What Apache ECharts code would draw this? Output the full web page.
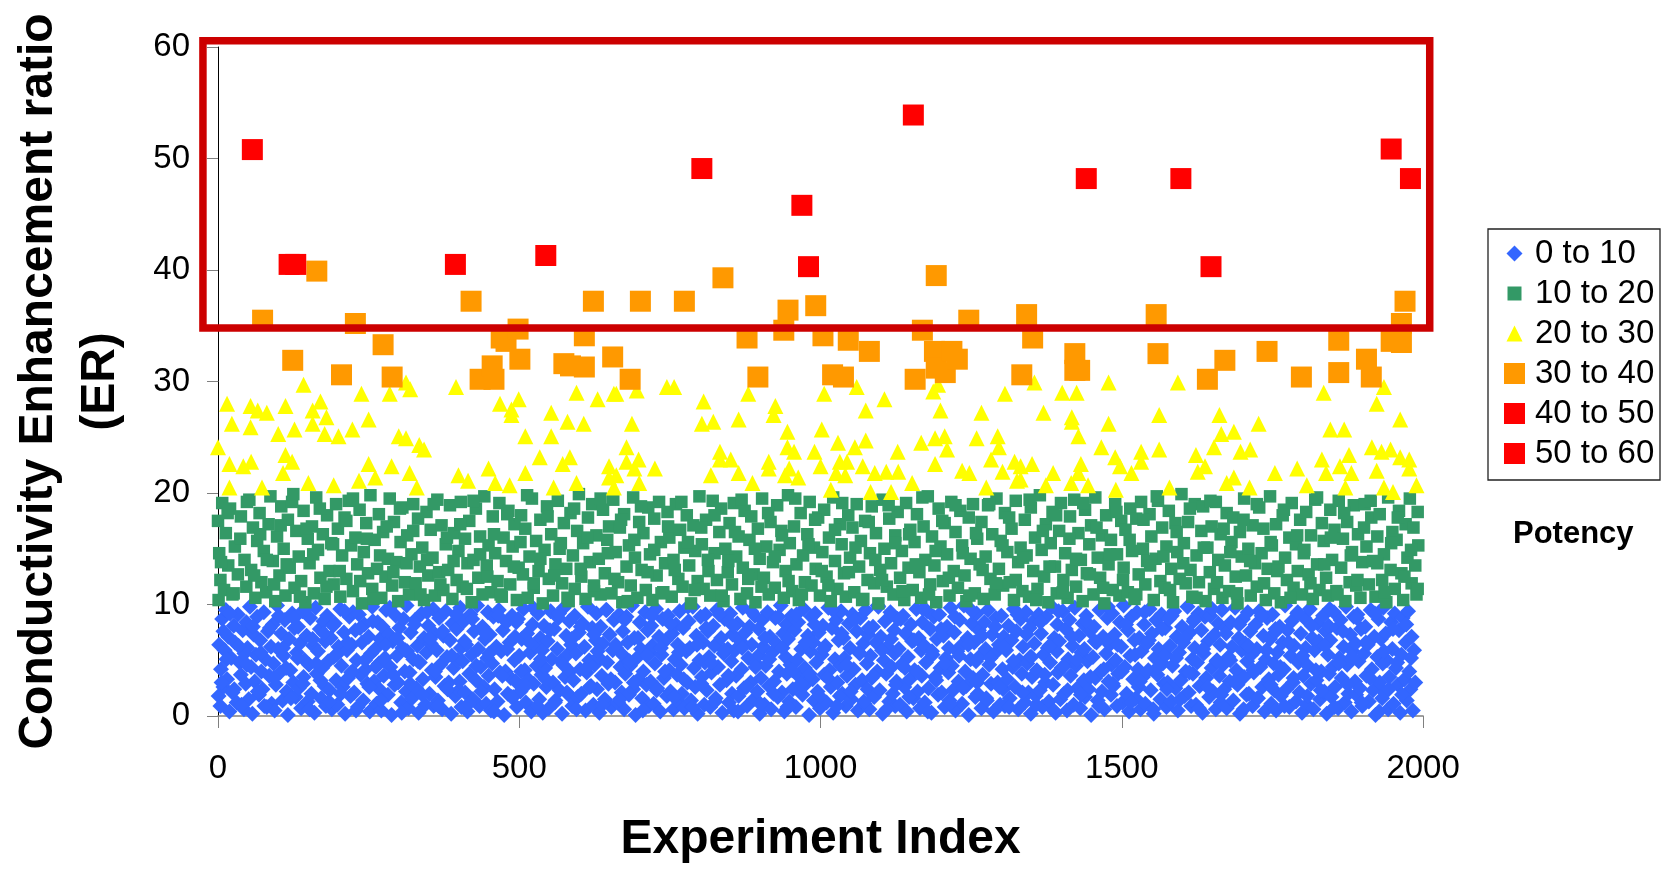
<!DOCTYPE html>
<html>
<head>
<meta charset="utf-8">
<script src="https://cdn.jsdelivr.net/npm/echarts@6/dist/echarts.min.js"></script>
<style>
html,body{margin:0;padding:0;background:#fff;}
#chart{width:1670px;height:869px;}
</style>
</head>
<body>
<div id="chart"></div>
<script>
// ---------- data (Experiment Index, Conductivity Enhancement ratio) ----------
const seriesNames = ['0 to 10', '10 to 20', '20 to 30', '30 to 40', '40 to 50', '50 to 60'];
const xTicks = [0, 500, 1000, 1500, 2000];
const yTicks = [0, 10, 20, 30, 40, 50, 60];

const red50to60 = [[57,50.8],[1154,53.9],[1947,50.85]];

const red40to50 = [[118,40.5],[129,40.5],[394,40.5],[544,41.3],[803,49.1],[969,45.8],[980,40.3],
  [1441,48.2],[1598,48.2],[1648,40.3],[1979,48.2]];

const orange30to40 = [[74,35.5],[124,31.9],[164,39.9],[205,30.6],[228,35.2],[274,33.3],[289,30.4],
  [420,37.2],[435,30.2],[455,31.4],[458,30.2],[470,33.9],[478,33.6],[498,34.7],[501,32.0],[574,31.6],
  [585,31.4],[608,34.1],[608,31.3],[623,37.2],[655,32.2],
  [684,30.2],[701,37.2],[774,37.2],[838,39.3],[878,33.9],[896,30.4],[939,34.6],[946,36.4],[992,36.8],
  [1004,34.1],[1020,30.6],[1038,30.4],[1046,33.7],[1081,32.7],[1157,30.2],[1169,34.6],[1189,32.7],
  [1192,39.5],[1192,31.2],[1207,30.8],[1218,32.7],[1227,32.0],[1246,35.5],
  [1334,30.6],[1342,36.0],[1352,33.9],[1422,32.5],[1422,31.0],[1430,31.0],[1557,36.0],[1560,32.5],
  [1642,30.2],[1671,31.9],[1741,32.7],[1798,30.4],[1860,33.7],[1860,30.8],[1906,32.0],[1914,30.4],
  [1947,33.6],[1964,35.2],[1964,33.5],[1970,37.2]];

const yellow20to30 = [[0,24.1],[15,28.0],[19,22.6],[19,20.5],[23,26.2],[42,22.4],[54,27.8],[54,25.9],
  [55,22.8],[66,27.4],[73,20.5],[81,27.2],[100,25.3],[108,21.8],[112,27.8],[112,23.4],[123,22.8],
  [127,25.7],[142,29.7],[150,20.9],[157,27.4],[157,26.2],[170,28.2],[177,25.3],[180,26.8],[192,20.7],
  [200,25.1],[223,25.7],[234,21.1],[238,28.9],[250,26.6],[250,22.6],[261,21.4],[285,28.9],[288,22.4],
  [300,25.1],[312,29.9],[312,24.9],[318,21.8],[319,29.3],[330,20.5],[334,24.3],[342,23.9],[395,29.5],
  [399,21.6],[415,21.1],[449,22.2],[460,20.9],[468,28.0],[484,20.7],[487,27.5],[487,27.0],[499,28.4],
  [510,25.1],[510,21.8],[534,23.2],[553,27.2],[553,25.1],[557,20.5],[572,22.6],[580,26.4],[584,23.2],
  [595,29.0],[595,20.9],[607,26.2],[630,28.4],[649,22.4],[649,21.4],[657,28.9],[657,20.5],
  [661,28.9],[661,21.6],[678,24.1],[678,22.8],[687,26.2],[691,22.2],[695,29.2],[698,23.0],[699,20.9],
  [725,22.2],[745,29.5],[757,29.5],[803,26.2],[806,28.2],[818,21.6],[822,26.4],[833,23.7],[833,23.0],
  [851,23.0],[864,26.6],[864,21.8],[880,28.9],[887,20.9],[914,22.8],[914,22.2],[922,27.0],[925,27.8],
  [941,21.6],[945,25.5],[945,24.1],[948,22.2],[956,23.7],[963,21.4],[990,23.7],[1000,22.4],[1002,25.7],
  [1006,28.9],[1017,20.3],[1026,21.8],[1029,24.5],[1032,22.8],[1041,21.6],[1044,22.8],[1057,24.1],
  [1060,29.5],[1070,22.4],[1075,24.7],[1075,27.4],[1083,20.1],[1090,21.8],[1106,28.4],[1109,21.9],
  [1117,20.1],[1128,23.7],[1129,21.9],[1152,20.9],[1167,24.5],[1187,29.1],[1190,24.9],[1190,22.6],
  [1195,29.7],[1199,27.4],[1206,25.1],[1210,23.9],[1235,22.0],[1247,21.8],[1259,24.9],[1267,27.2],
  [1275,20.5],[1283,23.0],[1294,25.1],[1296,24.1],[1302,21.9],[1306,28.9],[1322,22.8],[1326,21.1],
  [1332,22.4],[1332,21.2],[1351,22.6],[1355,29.9],[1370,27.2],[1374,20.7],[1386,21.8],[1401,29.0],
  [1416,20.9],[1417,26.8],[1417,26.4],[1425,29.0],[1428,25.1],[1428,21.8],[1432,22.6],[1444,20.7],
  [1466,24.1],[1478,29.9],[1478,26.2],[1489,23.2],[1490,20.3],[1497,22.4],[1516,21.8],[1532,23.7],
  [1532,22.8],[1562,27.0],[1562,23.9],[1579,20.5],[1593,29.9],[1623,23.4],[1626,21.9],[1638,22.4],
  [1653,24.1],[1662,27.0],[1665,25.3],[1674,20.9],[1686,25.5],[1686,21.4],[1697,23.7],[1712,20.5],
  [1713,23.9],[1727,26.2],[1754,21.8],[1791,22.2],[1807,20.7],[1832,23.0],[1835,29.0],[1839,21.8],
  [1846,25.7],[1862,22.4],[1869,25.7],[1871,20.5],[1877,23.4],[1881,21.8],[1915,24.1],[1923,28.0],
  [1923,22.0],[1931,23.7],[1935,29.5],[1935,20.5],[1946,23.9],[1950,20.1],[1962,26.6],[1962,23.2],
  [1977,23.0],[1977,22.2],[1989,20.7]];

const green10to20 = [
  [0,17.5],[1,10.4],[2,14.6],[4,12.2],[7,19.1],[10,11.3],[13,16.4],[17,13.5],[20,18.6],[24,10.9],[28,15.2],[33,12.7],[38,17.9],[44,14.0],[47,11.6],
  [52,19.4],[55,13.1],[58,16.9],[62,10.6],[65,15.7],[69,18.2],[72,12.0],[76,14.8],[80,11.1],[84,17.2],[87,19.7],[91,13.9],[95,10.3],[98,16.1],
  [102,12.6],[105,18.8],[109,15.0],[112,10.8],[116,17.6],[119,13.3],[123,19.2],[127,11.5],[130,16.6],[134,14.3],[138,12.1],[142,18.4],[145,10.2],[149,15.9],
  [152,13.7],[156,17.0],[159,11.0],[163,19.6],[166,14.9],[170,12.4],[174,16.3],[177,10.5],[181,18.0],[185,13.0],[188,15.5],[192,11.8],[196,19.0],[199,16.8],
  [203,10.7],[206,14.4],[210,17.8],[213,12.3],[217,19.3],[221,15.3],[224,11.2],[228,16.0],[231,13.6],[235,18.5],[239,10.1],[242,14.7],[246,17.3],[249,12.8],
  [253,19.8],[256,11.4],[260,15.8],[264,13.2],[267,18.1],[271,10.6],[274,16.5],[278,12.5],[282,14.1],[285,19.5],[289,11.7],[292,17.4],[296,13.8],[299,10.3],
  [303,15.6],[306,18.7],[310,12.0],[314,16.2],[317,10.9],[321,14.5],[324,19.0],[328,11.9],[332,17.7],[335,13.4],[339,15.1],[342,10.4],[346,18.3],[349,12.6],
  [353,16.7],[356,14.2],[360,10.8],[364,19.4],[367,12.9],[371,17.1],[374,11.3],[378,15.4],[382,13.1],[385,18.9],[389,10.5],[392,16.4],[396,12.2],[399,14.8],
  [403,19.2],[406,11.6],[410,15.9],[414,13.7],[417,17.5],[421,10.2],[424,14.0],[428,18.6],[432,12.4],[435,16.1],[439,10.9],[442,19.7],[446,13.5],[449,15.3],
  [453,11.1],[456,17.9],[460,14.6],[464,12.1],[467,19.1],[471,10.7],[474,16.0],[478,13.9],[482,18.4],[485,11.8],[489,15.2],[492,17.2],[496,10.4],[499,13.3],
  [503,18.0],[506,12.7],[510,16.8],[514,10.6],[517,14.3],[521,19.5],[524,11.5],[528,15.7],[532,13.0],[535,17.6],[539,10.1],[542,14.9],[546,18.8],[549,12.3],
  [553,16.3],[556,10.8],[560,13.6],[564,19.3],[567,15.0],[571,11.9],[574,17.3],[578,13.2],[582,10.3],[585,18.2],[589,14.4],[592,11.4],[596,16.6],[599,19.9],
  [603,12.5],[606,15.5],[610,10.5],[614,17.8],[617,13.8],[621,19.0],[624,11.2],[628,16.2],[632,14.1],[635,10.9],[639,18.5],[642,12.8],[646,15.8],[649,17.0],
  [653,11.0],[656,19.4],[660,14.7],[664,12.0],[667,16.9],[671,10.2],[674,18.1],[678,13.4],[682,15.3],[685,11.7],[689,19.6],[692,14.2],[696,10.6],[699,17.4],
  [703,13.1],[706,16.4],[710,11.3],[714,18.7],[717,14.5],[721,10.4],[724,17.7],[728,12.6],[732,19.2],[735,15.6],[739,11.1],[742,13.7],[746,18.3],[749,16.0],
  [753,10.7],[756,14.0],[760,19.0],[764,12.3],[767,16.7],[771,11.6],[774,15.1],[778,18.0],[782,13.5],[785,10.1],[789,17.1],[792,14.8],[796,12.1],[799,19.7],
  [803,15.4],[806,11.4],[810,17.6],[814,13.0],[817,10.8],[821,19.3],[824,14.6],[828,12.2],[832,16.5],[835,18.6],[839,10.3],[842,15.0],[846,12.9],[849,17.3],
  [853,11.8],[856,19.1],[860,14.3],[864,16.1],[867,10.5],[871,13.3],[874,18.4],[878,11.0],[882,15.8],[885,17.9],[889,12.7],[892,10.2],[896,16.8],[899,14.1],
  [903,19.5],[906,12.4],[910,15.2],[914,10.9],[917,17.4],[921,13.8],[924,11.5],[928,18.9],[932,14.9],[935,16.6],[939,10.6],[942,13.0],[946,19.8],[949,15.5],
  [953,11.2],[956,17.0],[960,13.6],[964,10.4],[967,18.2],[971,14.4],[974,12.0],[978,16.3],[982,19.2],[985,11.7],[989,15.1],[992,13.2],[996,17.8],[999,10.8],
  [1003,14.7],[1006,18.5],[1010,12.5],[1014,16.0],[1017,10.3],[1021,19.6],[1024,13.9],[1028,11.4],[1032,17.2],[1035,15.4],[1039,12.8],[1042,10.7],[1046,18.0],[1049,14.2],
  [1053,16.9],[1056,11.1],[1060,19.0],[1064,13.4],[1067,15.7],[1071,10.5],[1074,17.5],[1078,12.2],[1082,14.6],[1085,18.8],[1089,11.9],[1092,16.4],[1096,10.1],[1099,13.1],
  [1103,19.4],[1106,15.0],[1110,11.6],[1114,17.7],[1117,13.7],[1121,10.9],[1124,16.2],[1128,18.3],[1132,12.4],[1135,14.8],[1139,10.4],[1142,19.1],[1146,13.3],[1149,16.7],
  [1153,11.3],[1156,15.6],[1160,18.1],[1164,12.9],[1167,10.6],[1171,17.0],[1174,14.0],[1178,19.7],[1182,11.8],[1185,16.1],[1189,13.5],[1192,10.2],[1196,18.6],[1199,15.2],
  [1203,12.1],[1206,17.3],[1210,14.5],[1214,10.8],[1217,19.2],[1221,13.0],[1224,16.5],[1228,11.5],[1232,18.4],[1235,15.3],[1239,12.6],[1242,10.3],[1246,17.8],[1249,14.1],
  [1253,19.0],[1256,11.0],[1260,15.9],[1264,13.6],[1267,17.4],[1271,10.5],[1274,14.3],[1278,18.9],[1282,12.3],[1285,16.3],[1289,10.9],[1292,19.5],[1296,13.2],[1299,15.7],
  [1303,11.7],[1306,18.2],[1310,14.7],[1314,12.0],[1317,16.8],[1321,10.4],[1324,19.3],[1328,13.8],[1332,15.1],[1335,11.2],[1339,17.6],[1342,14.4],[1346,10.7],[1349,18.7],
  [1353,13.0],[1356,16.0],[1360,11.4],[1364,19.8],[1367,14.9],[1371,12.5],[1374,17.2],[1378,10.2],[1382,15.5],[1385,18.3],[1389,13.4],[1392,11.0],[1396,16.6],[1399,19.1],
  [1403,12.2],[1406,14.6],[1410,10.6],[1414,17.9],[1417,13.1],[1421,19.4],[1424,11.6],[1428,16.4],[1432,14.0],[1435,10.3],[1439,18.5],[1442,12.8],[1446,15.4],[1449,17.1],
  [1453,10.9],[1456,19.6],[1460,14.2],[1464,12.4],[1467,16.2],[1471,10.1],[1474,18.0],[1478,13.6],[1482,15.8],[1485,11.3],[1489,19.0],[1492,14.5],[1496,10.8],[1499,17.5],
  [1503,13.3],[1506,16.7],[1510,11.1],[1514,18.6],[1517,14.8],[1521,10.5],[1524,17.7],[1528,12.7],[1532,19.2],[1535,15.0],[1539,11.8],[1542,13.9],[1546,18.1],[1549,16.1],
  [1553,10.4],[1556,14.1],[1560,19.3],[1564,12.1],[1567,16.9],[1571,11.5],[1574,15.2],[1578,18.4],[1582,13.2],[1585,10.2],[1589,17.3],[1592,14.7],[1596,12.3],[1599,19.9],
  [1603,15.5],[1606,11.9],[1610,17.4],[1614,13.1],[1617,10.7],[1621,19.0],[1624,14.4],[1628,12.0],[1632,16.6],[1635,18.8],[1639,10.3],[1642,15.1],[1646,12.9],[1649,17.0],
  [1653,11.4],[1656,19.2],[1660,14.0],[1664,16.3],[1667,10.6],[1671,13.5],[1674,18.2],[1678,11.2],[1682,15.6],[1685,17.8],[1689,12.5],[1692,10.1],[1696,16.5],[1699,14.3],
  [1703,19.5],[1706,12.6],[1710,15.0],[1714,10.8],[1717,17.1],[1721,13.7],[1724,11.6],[1728,18.7],[1732,14.6],[1735,16.8],[1739,10.4],[1742,13.2],[1746,19.7],[1749,15.3],
  [1753,11.0],[1756,17.2],[1760,13.4],[1764,10.2],[1767,18.0],[1771,14.2],[1774,12.2],[1778,16.0],[1782,19.1],[1785,11.5],[1789,15.4],[1792,13.0],[1796,17.6],[1799,10.9],
  [1803,14.9],[1806,18.3],[1810,12.7],[1814,16.2],[1817,10.5],[1821,19.4],[1824,13.6],[1828,11.3],[1832,17.3],[1835,15.7],[1839,12.4],[1842,10.8],[1846,18.5],[1849,14.0],
  [1853,16.7],[1856,11.2],[1860,19.3],[1864,13.3],[1867,15.9],[1871,10.3],[1874,17.4],[1878,12.0],[1882,14.7],[1885,18.9],[1889,11.7],[1892,16.3],[1896,10.6],[1899,13.8],
  [1903,19.0],[1906,15.2],[1910,11.8],[1914,17.8],[1917,13.9],[1921,10.7],[1924,16.1],[1928,18.1],[1932,12.2],[1935,14.5],[1939,10.2],[1942,19.6],[1946,13.1],[1949,16.5],
  [1953,11.4],[1956,15.8],[1960,18.4],[1964,12.8],[1967,10.4],[1971,17.2],[1974,14.2],[1978,19.5],[1981,11.9],[1984,16.9],[1987,13.5],[1989,10.9],[1991,18.3],[1992,15.3],
  [5,13.8],[16,18.2],[26,11.0],[37,15.9],[48,19.2],[60,12.6],[70,16.3],[81,14.0],[93,11.8],[104,17.1],[114,13.6],[125,19.9],[136,10.7],[147,16.8],[158,14.5],[169,18.6],[180,11.6],[191,15.4],
  [202,13.0],[213,17.5],[224,19.5],[236,12.1],[247,15.9],[258,10.5],[269,14.4],[280,17.0],[291,12.9],[302,18.6],[313,13.7],[324,16.6],[336,10.9],[347,14.0],[358,19.0],[369,11.8],[380,16.0],[391,13.9],
  [402,17.2],[413,11.4],[424,19.3],[435,14.5],[447,12.5],[458,16.3],[469,10.9],[480,18.1],[491,13.4],[502,15.6],[513,19.8],[524,11.9],[535,14.1],[547,17.9],[558,12.6],[569,15.5],[580,10.6],[591,18.6],
  [602,13.2],[613,16.0],[624,11.7],[635,19.5],[647,14.6],[658,12.3],[669,17.6],[680,10.3],[691,15.8],[702,18.8],[713,12.9],[724,14.9],[736,11.0],[747,17.0],[758,13.1],[769,19.2],[780,15.6],[791,11.3],
  [802,16.9],[813,14.0],[824,18.0],[836,10.8],[847,13.9],[858,16.5],[869,19.4],[880,12.3],[891,15.0],[902,11.6],[913,18.2],[924,14.3],[936,16.2],[947,12.1],[958,19.5],[969,10.9],[980,15.4],[991,17.6],
  [1002,13.0],[1013,11.7],[1024,16.7],[1036,19.1],[1047,12.9],[1058,15.1],[1069,10.4],[1080,17.4],[1091,14.0],[1102,12.2],[1113,18.9],[1124,15.5],[1136,11.2],[1147,16.3],[1158,13.6],[1169,19.6],[1180,10.9],[1191,14.8],
  [1202,17.5],[1213,12.4],[1224,18.9],[1236,14.6],[1247,10.8],[1258,16.4],[1269,13.1],[1280,19.0],[1291,11.9],[1302,15.3],[1313,17.8],[1324,12.2],[1336,14.2],[1347,19.4],[1358,10.4],[1369,16.6],[1380,13.4],[1391,18.0],
  [1402,11.1],[1413,15.9],[1424,14.1],[1436,19.1],[1447,12.7],[1458,16.9],[1469,11.5],[1480,14.5],[1491,18.3],[1502,12.2],[1513,15.8],[1524,10.9],[1536,17.6],[1547,13.5],[1558,19.7],[1569,14.3],[1580,11.3],[1591,16.5],
  [1602,13.7],[1613,18.6],[1624,10.6],[1636,15.1],[1647,19.3],[1658,12.0],[1669,16.8],[1680,14.7],[1691,11.0],[1702,17.6],[1713,13.9],[1724,19.0],[1736,11.9],[1747,15.6],[1758,13.0],[1769,18.5],[1780,10.6],[1791,16.2],
  [1802,14.6],[1813,11.9],[1824,19.6],[1836,13.6],[1847,16.0],[1858,10.9],[1869,18.2],[1880,14.4],[1891,12.2],[1902,16.9],[1913,19.3],[1924,13.7],[1936,11.1],[1947,15.5],[1958,17.8],[1969,12.5],[1980,14.9],[1991,11.4]];

const blue0to10 = [
  [1,1.8],[2,6.4],[4,0.9],[5,4.2],[7,8.7],[9,2.6],[11,5.9],[13,9.5],[15,3.3],[17,7.1],[19,0.4],[22,5.2],[24,2.1],[26,8.1],[28,6.6],[31,1.2],[33,9.1],[36,4.8],[38,3.7],[41,7.7],[43,0.6],[44,5.6],
  [46,2.9],[47,8.4],[49,6.1],[51,1.5],[53,9.8],[55,4.4],[57,0.2],[59,7.3],[61,3.1],[63,5.5],[65,8.9],[68,1.9],[70,6.8],[72,4.0],[74,2.4],[76,9.3],[79,5.1],[81,0.8],[83,7.6],[85,3.6],[88,6.2],[89,1.1],
  [91,8.2],[92,4.7],[94,0.5],[96,2.8],[98,9.9],[100,6.0],[103,3.9],[105,7.4],[107,1.4],[109,5.4],[111,8.6],[114,2.2],[116,0.1],[118,6.9],[120,4.1],[123,9.2],[125,3.0],[127,7.9],[129,1.7],[131,5.7],[133,8.0],[134,2.5],
  [136,6.5],[138,0.7],[140,9.4],[142,3.5],[144,5.0],[147,7.2],[149,1.3],[151,4.6],[153,8.8],[155,2.0],[158,6.3],[160,0.3],[162,9.7],[164,3.8],[166,5.8],[169,7.8],[171,1.6],[173,4.3],[175,8.5],[177,2.7],[178,6.7],[179,0.9],
  [181,9.0],[183,4.9],[185,2.3],[187,7.0],[189,0.6],[192,5.3],[194,8.3],[196,3.2],[198,1.0],[200,6.2],[203,9.6],[205,4.5],[207,2.6],[209,7.5],[211,0.2],[214,5.9],[216,3.4],[218,8.9],[220,1.8],[222,6.4],[223,4.0],[224,9.3],
  [226,2.1],[228,7.7],[230,5.0],[232,0.8],[234,9.1],[237,3.7],[239,6.6],[241,1.4],[243,8.2],[245,4.2],[248,2.9],[250,7.1],[252,0.4],[254,5.6],[256,9.8],[259,3.1],[261,6.0],[263,1.1],[265,8.4],[267,4.7],[268,2.4],[269,6.9],
  [271,0.5],[273,8.0],[275,3.6],[277,5.2],[279,9.5],[282,1.9],[284,7.3],[286,4.4],[288,0.1],[290,6.7],[293,2.8],[295,9.0],[297,5.4],[299,3.0],[301,7.9],[304,1.2],[306,6.1],[308,8.7],[310,4.0],[312,2.2],[313,9.9],[314,5.8],
  [316,0.7],[318,3.9],[320,7.5],[322,1.6],[324,5.1],[327,8.6],[329,2.5],[331,6.3],[333,0.3],[335,4.8],[338,9.2],[340,3.3],[342,7.0],[344,1.0],[346,5.7],[349,8.1],[351,2.0],[353,6.5],[355,4.1],[357,9.6],[358,0.9],[359,7.4],
  [361,3.5],[363,5.9],[365,1.4],[367,8.8],[369,4.6],[372,0.6],[374,7.2],[376,2.7],[378,9.4],[380,5.3],[383,3.0],[385,6.8],[387,0.2],[389,8.3],[391,4.3],[394,1.8],[396,7.8],[398,5.0],[400,2.3],[402,9.7],[403,6.1],[404,0.8],
  [406,4.9],[408,8.5],[410,2.1],[412,6.4],[414,0.4],[417,3.8],[419,9.1],[421,5.5],[423,1.5],[425,7.6],[428,3.2],[430,9.9],[432,6.0],[434,0.9],[436,4.4],[439,8.0],[441,2.6],[443,6.9],[445,1.1],[447,5.2],[448,9.3],[449,3.6],
  [451,7.3],[453,0.5],[455,4.7],[457,8.9],[459,2.4],[462,6.2],[464,1.3],[466,9.5],[468,3.9],[470,5.8],[473,7.7],[475,0.1],[477,4.0],[479,8.4],[481,2.0],[484,6.6],[486,3.4],[488,9.0],[490,1.7],[492,5.0],[493,7.1],[494,3.1],
  [496,0.8],[498,8.7],[500,5.4],[502,2.2],[504,6.9],[507,9.6],[509,4.1],[511,1.2],[513,7.4],[515,3.3],[518,5.7],[520,0.4],[522,8.2],[524,2.9],[526,6.3],[529,4.5],[531,9.2],[533,1.5],[535,7.0],[537,3.7],[538,5.9],[539,0.3],
  [541,8.1],[543,4.3],[545,2.6],[547,6.7],[549,0.7],[552,9.4],[554,5.1],[556,3.0],[558,7.8],[560,1.4],[563,6.0],[565,8.8],[567,2.3],[569,4.9],[571,0.2],[574,9.7],[576,3.5],[578,7.2],[580,5.5],[582,1.9],[583,8.5],[584,4.0],
  [586,6.4],[588,0.9],[590,3.2],[592,9.0],[594,5.6],[597,1.7],[599,7.5],[601,4.2],[603,2.0],[605,8.3],[608,6.2],[610,0.5],[612,3.9],[614,9.8],[616,5.0],[619,2.7],[621,7.9],[623,1.0],[625,4.6],[627,6.8],[628,9.2],[629,2.4],
  [631,5.3],[633,0.3],[635,8.0],[637,3.6],[639,6.5],[642,1.5],[644,9.5],[646,4.8],[648,2.9],[650,7.3],[653,0.8],[655,5.9],[657,8.6],[659,3.0],[661,6.1],[664,1.2],[666,9.1],[668,4.4],[670,2.1],[672,7.6],[673,5.4],[674,0.6],
  [676,3.8],[678,8.9],[680,6.6],[682,1.9],[684,4.5],[687,9.9],[689,2.4],[691,7.0],[693,0.1],[695,5.2],[698,3.3],[700,8.4],[702,6.0],[704,1.6],[706,4.0],[709,9.3],[711,2.8],[713,7.7],[715,0.9],[717,5.7],[718,3.1],[719,8.1],
  [721,6.3],[723,1.1],[725,4.7],[727,9.6],[729,2.5],[732,7.1],[734,0.4],[736,5.5],[738,8.7],[740,3.4],[743,6.8],[745,1.8],[747,9.0],[749,4.1],[751,2.2],[754,7.4],[756,0.6],[758,5.1],[760,8.2],[762,3.7],[763,6.4],[764,1.3],
  [766,9.4],[768,4.6],[770,2.0],[772,7.9],[774,0.7],[777,5.8],[779,3.0],[781,8.5],[783,6.1],[785,1.4],[788,9.8],[790,4.3],[792,2.6],[794,7.2],[796,0.2],[799,5.0],[801,8.9],[803,3.5],[805,6.6],[807,1.0],[808,4.8],[809,9.1],
  [811,2.3],[813,7.6],[815,5.3],[817,0.8],[819,3.9],[822,8.1],[824,6.3],[826,1.6],[828,9.5],[830,4.4],[833,2.8],[835,7.0],[837,0.3],[839,5.6],[841,8.7],[844,3.2],[846,6.0],[848,1.2],[850,9.2],[852,4.9],[853,2.0],[854,7.3],
  [856,0.5],[858,5.9],[860,3.6],[862,8.3],[864,1.8],[867,6.7],[869,4.2],[871,9.7],[873,2.5],[875,7.5],[878,0.9],[880,5.2],[882,8.0],[884,3.0],[886,6.4],[889,1.5],[891,9.0],[893,4.7],[895,2.2],[897,7.8],[898,5.5],[899,0.2],
  [901,3.4],[903,8.6],[905,6.2],[907,1.0],[909,4.5],[912,9.3],[914,2.7],[916,7.1],[918,0.6],[920,5.7],[923,3.1],[925,8.8],[927,6.5],[929,1.7],[931,4.0],[934,9.9],[936,2.1],[938,7.4],[940,0.4],[942,5.3],[943,8.2],[944,3.8],
  [946,6.9],[948,1.3],[950,4.6],[952,9.0],[954,2.4],[957,7.7],[959,0.8],[961,5.0],[963,8.4],[965,3.5],[968,6.0],[970,1.9],[972,9.6],[974,4.3],[976,2.9],[979,7.2],[981,0.1],[983,5.8],[985,8.9],[987,3.3],[988,6.6],[989,1.4],
  [991,9.2],[993,4.8],[995,2.2],[997,7.5],[999,0.7],[1002,5.5],[1004,8.1],[1006,3.7],[1008,6.3],[1010,1.2],[1013,9.7],[1015,4.1],[1017,2.6],[1019,7.9],[1021,0.3],[1024,5.1],[1026,8.6],[1028,3.0],[1030,6.8],[1032,1.8],[1033,4.5],[1034,9.4],
  [1036,2.0],[1038,7.0],[1040,5.2],[1042,0.9],[1044,3.6],[1047,8.3],[1049,6.1],[1051,1.5],[1053,9.1],[1055,4.2],[1058,2.8],[1060,7.6],[1062,0.5],[1064,5.7],[1066,8.8],[1069,3.2],[1071,6.5],[1073,1.1],[1075,9.5],[1077,4.7],[1078,2.4],[1079,7.3],
  [1081,0.6],[1083,5.4],[1085,3.4],[1087,8.0],[1089,1.7],[1092,6.6],[1094,4.0],[1096,9.8],[1098,2.3],[1100,7.1],[1103,0.2],[1105,5.0],[1107,8.5],[1109,3.8],[1111,6.2],[1114,1.3],[1116,9.3],[1118,4.4],[1120,2.0],[1122,7.7],[1123,5.6],[1124,0.9],
  [1126,3.1],[1128,8.7],[1130,6.0],[1132,1.0],[1134,4.6],[1137,9.0],[1139,2.6],[1141,7.4],[1143,0.4],[1145,5.3],[1148,3.3],[1150,8.2],[1152,6.7],[1154,1.6],[1156,4.1],[1159,9.6],[1161,2.2],[1163,7.0],[1165,0.7],[1167,5.9],[1168,3.6],[1169,8.4],
  [1171,6.4],[1173,1.2],[1175,4.8],[1177,9.4],[1179,2.5],[1182,7.8],[1184,0.3],[1186,5.5],[1188,8.9],[1190,3.5],[1193,6.9],[1195,1.9],[1197,9.1],[1199,4.3],[1201,2.1],[1204,7.2],[1206,0.8],[1208,5.2],[1210,8.0],[1212,3.9],[1213,6.1],[1214,1.4],
  [1216,9.7],[1218,4.5],[1220,2.3],[1222,7.5],[1224,0.5],[1227,5.8],[1229,3.1],[1231,8.6],[1233,6.3],[1235,1.1],[1238,9.9],[1240,4.0],[1242,2.7],[1244,7.0],[1246,0.1],[1249,5.1],[1251,8.3],[1253,3.4],[1255,6.6],[1257,1.7],[1258,4.9],[1259,9.2],
  [1261,2.0],[1263,7.7],[1265,5.4],[1267,0.7],[1269,3.7],[1272,8.4],[1274,6.0],[1276,1.4],[1278,9.5],[1280,4.6],[1283,2.9],[1285,7.3],[1287,0.4],[1289,5.6],[1291,8.8],[1294,3.0],[1296,6.4],[1298,1.0],[1300,9.0],[1302,4.2],[1303,2.4],[1304,7.1],
  [1306,0.9],[1308,5.9],[1310,3.3],[1312,8.1],[1314,1.6],[1317,6.8],[1319,4.4],[1321,9.6],[1323,2.6],[1325,7.6],[1328,0.6],[1330,5.0],[1332,8.7],[1334,3.8],[1336,6.2],[1339,1.2],[1341,9.3],[1343,4.7],[1345,2.1],[1347,7.9],[1348,5.3],[1349,0.2],
  [1351,3.5],[1353,8.5],[1355,6.5],[1357,1.8],[1359,4.1],[1362,9.1],[1364,2.3],[1366,7.4],[1368,0.8],[1370,5.5],[1373,3.0],[1375,8.9],[1377,6.1],[1379,1.3],[1381,4.8],[1384,9.8],[1386,2.8],[1388,7.0],[1390,0.3],[1392,5.8],[1393,8.2],[1394,3.9],
  [1396,6.7],[1398,1.5],[1400,4.3],[1402,9.4],[1404,2.0],[1407,7.8],[1409,0.5],[1411,5.1],[1413,8.6],[1415,3.6],[1418,6.3],[1420,1.0],[1422,9.7],[1424,4.5],[1426,2.5],[1429,7.2],[1431,0.7],[1433,5.7],[1435,8.3],[1437,3.2],[1438,6.0],[1439,1.7],
  [1441,9.0],[1443,4.9],[1445,2.4],[1447,7.6],[1449,0.1],[1452,5.3],[1454,8.0],[1456,3.4],[1458,6.6],[1460,1.4],[1463,9.5],[1465,4.0],[1467,2.2],[1469,7.1],[1471,0.6],[1474,5.6],[1476,8.8],[1478,3.1],[1480,6.4],[1482,1.9],[1483,4.6],[1484,9.2],
  [1486,2.7],[1488,7.3],[1490,5.0],[1492,0.9],[1494,3.8],[1497,8.4],[1499,6.2],[1501,1.2],[1503,9.9],[1505,4.4],[1508,2.0],[1510,7.7],[1512,0.4],[1514,5.4],[1516,8.9],[1519,3.3],[1521,6.8],[1523,1.6],[1525,9.3],[1527,4.2],[1528,2.6],[1529,7.0],
  [1531,0.6],[1533,5.8],[1535,3.5],[1537,8.2],[1539,1.1],[1542,6.5],[1544,4.1],[1546,9.6],[1548,2.3],[1550,7.4],[1553,0.2],[1555,5.2],[1557,8.6],[1559,3.7],[1561,6.0],[1564,1.5],[1566,9.1],[1568,4.7],[1570,2.9],[1572,7.9],[1573,5.5],[1574,0.8],
  [1576,3.0],[1578,8.7],[1580,6.3],[1582,1.3],[1584,4.5],[1587,9.4],[1589,2.5],[1591,7.1],[1593,0.5],[1595,5.7],[1598,3.2],[1600,8.0],[1602,6.6],[1604,1.8],[1606,4.0],[1609,9.8],[1611,2.1],[1613,7.5],[1615,0.9],[1617,5.1],[1618,3.8],[1619,8.5],
  [1621,6.1],[1623,1.0],[1625,4.8],[1627,9.2],[1629,2.7],[1632,7.7],[1634,0.3],[1636,5.6],[1638,8.9],[1640,3.4],[1643,6.7],[1645,1.7],[1647,9.0],[1649,4.3],[1651,2.2],[1654,7.3],[1656,0.6],[1658,5.0],[1660,8.3],[1662,3.6],[1663,6.4],[1664,1.2],
  [1666,9.5],[1668,4.6],[1670,2.4],[1672,7.9],[1674,0.7],[1677,5.3],[1679,3.1],[1681,8.4],[1683,6.2],[1685,1.4],[1688,9.7],[1690,4.1],[1692,2.8],[1694,7.0],[1696,0.2],[1699,5.9],[1701,8.7],[1703,3.5],[1705,6.5],[1707,1.9],[1708,4.9],[1709,9.3],
  [1711,2.0],[1713,7.6],[1715,5.5],[1717,0.9],[1719,3.9],[1722,8.2],[1724,6.0],[1726,1.6],[1728,9.4],[1730,4.4],[1733,2.6],[1735,7.2],[1737,0.4],[1739,5.1],[1741,8.8],[1744,3.3],[1746,6.9],[1748,1.1],[1750,9.1],[1752,4.7],[1753,2.3],[1754,7.5],
  [1756,0.5],[1758,5.7],[1760,3.7],[1762,8.0],[1764,1.8],[1767,6.6],[1769,4.2],[1771,9.9],[1773,2.4],[1775,7.7],[1778,0.8],[1780,5.4],[1782,8.5],[1784,3.0],[1786,6.3],[1789,1.3],[1791,9.2],[1793,4.8],[1795,2.1],[1797,7.4],[1798,5.2],[1799,0.3],
  [1801,3.6],[1803,8.8],[1805,6.1],[1807,1.0],[1809,4.5],[1812,9.6],[1814,2.9],[1816,7.0],[1818,0.6],[1820,5.9],[1823,3.2],[1825,8.3],[1827,6.7],[1829,1.5],[1831,4.0],[1834,9.0],[1836,2.2],[1838,7.6],[1840,0.2],[1842,5.5],[1843,8.1],[1844,3.8],
  [1846,6.8],[1848,1.7],[1850,4.4],[1852,9.3],[1854,2.6],[1857,7.9],[1859,0.7],[1861,5.2],[1863,8.6],[1865,3.4],[1868,6.2],[1870,1.2],[1872,9.8],[1874,4.6],[1876,2.0],[1879,7.3],[1881,0.4],[1883,5.8],[1885,8.9],[1887,3.1],[1888,6.5],[1889,1.9],
  [1891,9.1],[1893,4.9],[1895,2.5],[1897,7.8],[1899,0.9],[1902,5.6],[1904,8.0],[1906,3.6],[1908,6.4],[1910,1.3],[1913,9.5],[1915,4.2],[1917,2.3],[1919,7.1],[1921,0.1],[1924,5.3],[1926,8.7],[1928,3.0],[1930,6.9],[1932,1.6],[1933,4.7],[1934,9.7],
  [1936,2.1],[1938,7.4],[1940,5.0],[1942,0.6],[1944,3.5],[1947,8.4],[1949,6.0],[1951,1.1],[1953,9.2],[1955,4.3],[1958,2.8],[1960,7.7],[1962,0.3],[1964,5.5],[1966,8.8],[1969,3.3],[1971,6.6],[1973,1.4],[1975,9.4],[1977,4.0],[1979,2.4],[1981,7.1],[1983,0.5],[1985,5.9],
  [6,3.0],[9,7.6],[14,5.1],[20,9.2],[27,2.4],[34,6.3],[39,1.0],[48,4.6],[58,8.0],[66,2.2],[71,5.7],[77,0.9],[86,7.9],[93,3.4],[101,9.0],[108,6.1],[113,4.3],[121,1.6],[126,8.8],[132,5.2],
  [141,2.9],[146,9.6],[152,0.6],[157,6.9],[163,4.7],[170,3.2],[176,7.4],[184,1.3],[191,8.1],[197,5.5],[204,2.0],[210,9.4],[215,6.6],[221,3.9],[229,0.5],[236,7.9],[244,5.0],[251,2.6],[257,8.5],[262,4.4],
  [270,1.4],[278,6.4],[285,9.7],[291,3.7],[298,7.0],[305,0.3],[311,5.9],[319,2.9],[326,8.2],[332,4.9],[339,1.9],[347,9.3],[352,6.9],[360,4.0],[366,0.9],[373,7.6],[381,2.4],[388,5.4],[395,9.1],[401,3.1],
  [409,6.7],[416,1.1],[422,8.7],[429,4.5],[437,2.2],[444,7.4],[450,5.6],[458,0.4],[465,9.0],[472,3.6],[480,6.0],[487,1.7],[495,8.4],[503,4.0],[510,2.7],[517,6.6],[523,9.7],[530,0.9],[536,5.1],[544,3.3],
  [551,7.7],[559,1.2],[566,9.2],[573,4.6],[579,2.1],[587,6.9],[595,0.6],[602,8.0],[609,4.2],[617,2.6],[624,7.3],[630,5.8],[638,1.0],[645,9.5],[652,3.3],[660,6.4],[667,1.5],[675,8.6],[683,4.9],[690,3.0],
  [697,7.0],[705,0.5],[712,5.4],[720,9.0],[728,2.3],[735,6.1],[742,4.0],[750,8.3],[757,1.7],[765,5.7],[773,3.3],[780,9.8],[787,0.8],[795,6.4],[802,2.9],[810,7.9],[818,4.8],[825,1.3],[832,9.1],[840,5.9],
  [847,3.6],[855,8.1],[863,0.4],[870,6.1],[877,2.6],[885,9.4],[892,4.4],[900,1.1],[908,7.0],[915,5.1],[922,2.0],[930,8.9],[937,6.1],[945,0.8],[953,4.1],[960,9.1],[967,2.9],[975,6.6],[982,3.8],[990,8.2],
  [998,1.8],[1005,6.0],[1012,3.4],[1020,9.5],[1027,0.9],[1035,7.4],[1043,4.6],[1050,2.2],[1057,8.6],[1065,5.6],[1072,1.3],[1080,7.9],[1088,3.6],[1095,9.9],[1102,5.9],[1110,0.6],[1117,6.9],[1125,2.8],[1133,8.7],[1140,4.3],
  [1147,1.7],[1155,6.8],[1162,3.9],[1170,9.6],[1178,0.4],[1185,5.8],[1192,3.2],[1200,7.8],[1207,4.7],[1215,1.1],[1223,8.9],[1230,5.4],[1237,2.5],[1245,6.4],[1252,9.4],[1260,3.0],[1268,7.2],[1275,1.6],[1282,5.2],[1290,8.0],
  [1297,2.6],[1305,6.2],[1313,0.8],[1320,4.9],[1327,9.1],[1335,2.1],[1342,7.3],[1350,5.3],[1358,1.0],[1365,8.4],[1372,3.7],[1380,6.3],[1387,0.5],[1395,9.4],[1403,4.4],[1410,2.3],[1417,7.1],[1425,5.0],[1432,1.9],[1440,8.5],
  [1448,3.5],[1455,6.7],[1462,0.9],[1470,4.2],[1477,9.8],[1485,2.9],[1493,6.4],[1500,4.0],[1507,8.2],[1515,1.2],[1522,5.5],[1530,3.1],[1538,9.3],[1545,6.8],[1552,0.6],[1560,4.4],[1567,7.8],[1575,2.4],[1583,9.0],[1590,5.2],
  [1597,1.5],[1605,7.0],[1612,3.9],[1620,8.7],[1628,0.7],[1635,6.0],[1642,2.6],[1650,9.6],[1657,4.9],[1665,1.9],[1673,7.4],[1680,5.0],[1687,3.1],[1695,8.2],[1702,0.6],[1710,6.3],[1718,4.1],[1725,1.6],[1732,9.0],[1740,5.9],
  [1747,2.8],[1755,7.8],[1763,4.4],[1770,0.9],[1777,6.6],[1785,3.4],[1792,9.3],[1800,5.4],[1808,1.8],[1815,8.1],[1822,4.1],[1830,2.3],[1837,6.3],[1845,9.6],[1853,0.8],[1860,4.7],[1867,7.6],[1875,2.8],[1882,5.3],[1890,8.8],
  [1898,1.2],[1905,6.6],[1912,3.4],[1920,9.2],[1927,0.4],[1935,5.8],[1943,2.4],[1950,7.8],[1957,4.8],[1965,1.9],[1972,8.2],[1980,5.2],[1987,3.0]];

// highlighted region (ER >= 35), outlined in data units
const highlightX = [-25, 2011];
const highlightY = [34.8, 60.57];

// ---------- chart ----------
const FONT = "'Liberation Sans', Arial, Helvetica, sans-serif";
const chart = echarts.init(document.getElementById('chart'), null, {renderer: 'canvas'});

const legendBox = {
  id: 'legendBox', type: 'rect', silent: true, z: 100,
  shape: {x: 1488, y: 229, width: 172, height: 251},
  style: {fill: 'none', stroke: '#222', lineWidth: 1.3}
};

const option = {
  animation: false,
  backgroundColor: '#ffffff',
  title: {
    text: 'Potency', left: 1513, top: 519, padding: 0,
    textStyle: {fontFamily: FONT, fontSize: 31, fontWeight: 'bold', color: '#000'}
  },
  grid: {left: 213.2, right: 246.9, top: 47, bottom: 151.3, containLabel: false},
  legend: {
    orient: 'vertical', left: 1504, top: 237, padding: 0,
    itemWidth: 21, itemHeight: 21, itemGap: 7, selectedMode: false,
    textStyle: {fontFamily: FONT, fontSize: 33, color: '#000', padding: [0, 0, 0, 5]},
    data: [
      {name: seriesNames[0], icon: 'path://M0,0M21,21M10.5,2.5L18.5,10.5L10.5,18.5L2.5,10.5Z'},
      {name: seriesNames[1], icon: 'path://M0,0M21,21M3.5,3.5L17.5,3.5L17.5,17.5L3.5,17.5Z'},
      {name: seriesNames[2], icon: 'path://M0,0M21,21M10.5,2.5L18.5,18.5L2.5,18.5Z'},
      {name: seriesNames[3], icon: 'rect'},
      {name: seriesNames[4], icon: 'rect'},
      {name: seriesNames[5], icon: 'rect'}
    ]
  },
  graphic: [legendBox],
  xAxis: {
    type: 'value', min: xTicks[0], max: xTicks[xTicks.length - 1], interval: xTicks[1] - xTicks[0],
    name: 'Experiment Index', nameLocation: 'middle', nameGap: 100,
    nameTextStyle: {fontFamily: FONT, fontSize: 48, fontWeight: 'bold', color: '#000'},
    axisLine: {show: true, lineStyle: {color: '#808080', width: 1.5}},
    axisTick: {show: true, length: 12, lineStyle: {color: '#808080', width: 1}},
    axisLabel: {fontFamily: FONT, fontSize: 33, color: '#000', margin: 36, formatter: v => String(v)},
    splitLine: {show: false}
  },
  yAxis: {
    type: 'value', min: yTicks[0], max: yTicks[yTicks.length - 1], interval: yTicks[1] - yTicks[0],
    name: 'Conductivity Enhancement ratio\n(ER)', nameLocation: 'middle', nameGap: 86,
    nameTextStyle: {fontFamily: FONT, fontSize: 48, fontWeight: 'bold', color: '#000', lineHeight: 62},
    axisLine: {show: true, lineStyle: {color: '#000', width: 1}},
    axisTick: {show: true, length: 11, lineStyle: {color: '#808080', width: 1}},
    axisLabel: {fontFamily: FONT, fontSize: 33, color: '#000', margin: 28, formatter: v => String(v)},
    splitLine: {show: false}
  },
  series: [
    {name: seriesNames[0], type: 'scatter', symbol: 'diamond', symbolSize: 16,
     itemStyle: {color: '#3366FF', opacity: 1}, data: blue0to10, z: 2},
    {name: seriesNames[1], type: 'scatter', symbol: 'rect', symbolSize: 12.5,
     itemStyle: {color: '#339966', opacity: 1}, data: green10to20, z: 3},
    {name: seriesNames[2], type: 'scatter', symbol: 'triangle', symbolSize: 16,
     itemStyle: {color: '#FFFF00', opacity: 1}, data: yellow20to30, z: 4},
    {name: seriesNames[3], type: 'scatter', symbol: 'rect', symbolSize: 21,
     itemStyle: {color: '#FF9900', opacity: 1}, data: orange30to40, z: 5},
    {name: seriesNames[4], type: 'scatter', symbol: 'rect', symbolSize: 21,
     itemStyle: {color: '#FF0000', opacity: 1}, data: red40to50, z: 6},
    {name: seriesNames[5], type: 'scatter', symbol: 'rect', symbolSize: 21,
     itemStyle: {color: '#FF0000', opacity: 1}, data: red50to60, z: 6}
  ]
};
chart.setOption(option);

// outline of the highlighted region, positioned through the chart's own scales
const pTopLeft = chart.convertToPixel({gridIndex: 0}, [highlightX[0], highlightY[1]]);
const pBotRight = chart.convertToPixel({gridIndex: 0}, [highlightX[1], highlightY[0]]);
chart.setOption({
  graphic: [legendBox, {
    id: 'highlightBox', type: 'rect', silent: true, z: 50,
    shape: {x: pTopLeft[0], y: pTopLeft[1], width: pBotRight[0] - pTopLeft[0], height: pBotRight[1] - pTopLeft[1]},
    style: {fill: 'none', stroke: '#CC0000', lineWidth: 7.5, lineJoin: 'miter'}
  }]
});
</script>
</body>
</html>
